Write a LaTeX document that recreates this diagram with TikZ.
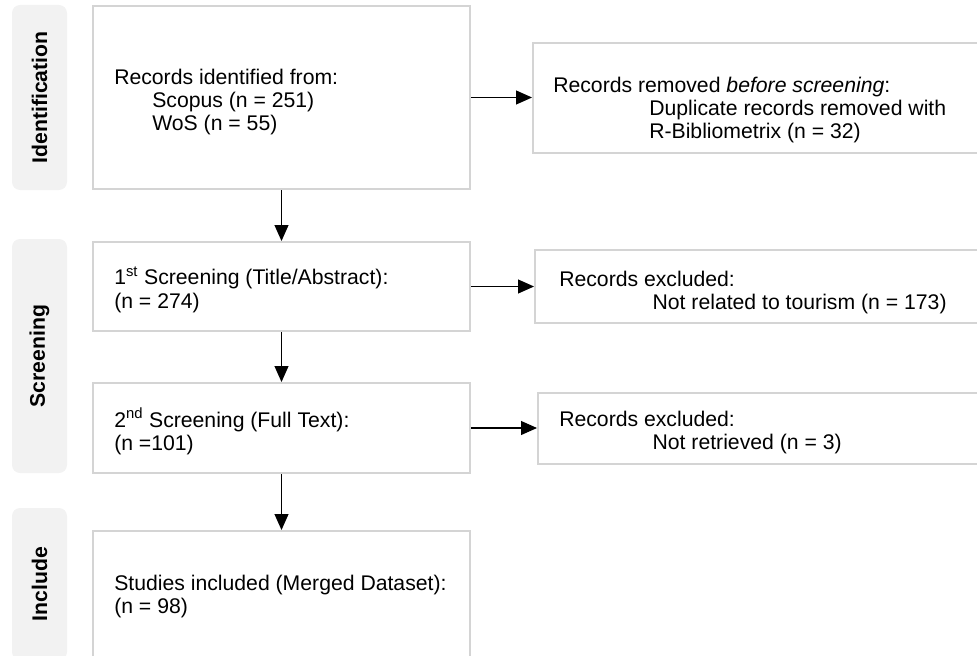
\documentclass[tikz,border=0pt]{standalone}
\usepackage{fontspec}
\setmainfont{Liberation Sans}
\usetikzlibrary{arrows.meta,fit}
\definecolor{boxline}{HTML}{D4D4D4}
\definecolor{labfill}{HTML}{F2F2F2}
\begin{document}
\begin{tikzpicture}[x=0.75pt,y=-0.75pt,
  every node/.style={font=\fontsize{15.9pt}{17.6pt}\selectfont},
  box/.style={draw=boxline,line width=1.5pt,fill=white,rectangle,inner sep=0pt},
  lab/.style={fill=labfill,rounded corners=6pt,inner sep=0pt},
  labtxt/.style={rotate=90,font=\fontsize{15.9pt}{17.6pt}\selectfont\bfseries,inner sep=0pt},
  txt/.style={anchor=west,align=left,inner sep=0pt},
  arr/.style={line width=0.8pt,-{Triangle[length=12pt,width=10.5pt]}}
]
\useasboundingbox (0,0) rectangle (977,656);
% phase labels
\node[lab,fit={(12,5) (67,190)}] (labI) {};
\node[labtxt] (labIt) at (labI.center) {Identification};
\node[lab,fit={(12,239) (67,473)}] (labS) {};
\node[labtxt] (labSt) at (labS.center) {Screening};
\node[lab,fit={(12,508) (67,660)}] (labN) {};
\node[labtxt] (labNt) at (labN.center) {Include};
% main boxes
\node[box,fit={(93,6) (470,189)}] (b1) {};
\node[box,fit={(93,242) (470,331)}] (b2) {};
\node[box,fit={(93,383) (470,473)}] (b3) {};
\node[box,fit={(93,531) (470,680)}] (b4) {};
% right boxes
\node[box,fit={(533,43) (990,153)}] (rb1) {};
\node[box,fit={(535,250) (990,323)}] (rb2) {};
\node[box,fit={(538,393) (990,464)}] (rb3) {};
% texts
\node[txt] (t1) at (114,102) {Records identified from:\\\hspace*{28.5pt}Scopus (n = 251)\\\hspace*{28.5pt}WoS (n = 55)};
\node[txt] (t2) at (114,289.5) {1\textsuperscript{st} Screening (Title/Abstract):\\(n = 274)};
\node[txt] (t3) at (114,431.5) {2\textsuperscript{nd} Screening (Full Text):\\(n =101)};
\node[txt] (t4) at (114,596.5) {Studies included (Merged Dataset):\\(n = 98)};
\node[txt] (rt1) at (553,110) {Records removed \textit{before screening}:\\\hspace*{72pt}Duplicate records removed with\\\hspace*{72pt}R-Bibliometrix (n = 32)};
\node[txt] (rt2) at (559,292.5) {Records excluded:\\\hspace*{70pt}Not related to tourism (n = 173)};
\node[txt] (rt3) at (559,432.5) {Records excluded:\\\hspace*{70pt}Not retrieved (n = 3)};
% arrows
\draw[arr] (b1) -- (b2);
\draw[arr] (b2) -- (b3);
\draw[arr] (b3) -- (b4);
\draw[arr] (b1.east) -- (b1.east -| rb1.west);
\draw[arr] (b2.east) -- (b2.east -| rb2.west);
\draw[arr] (b3.east) -- (b3.east -| rb3.west);
\end{tikzpicture}
\end{document}
